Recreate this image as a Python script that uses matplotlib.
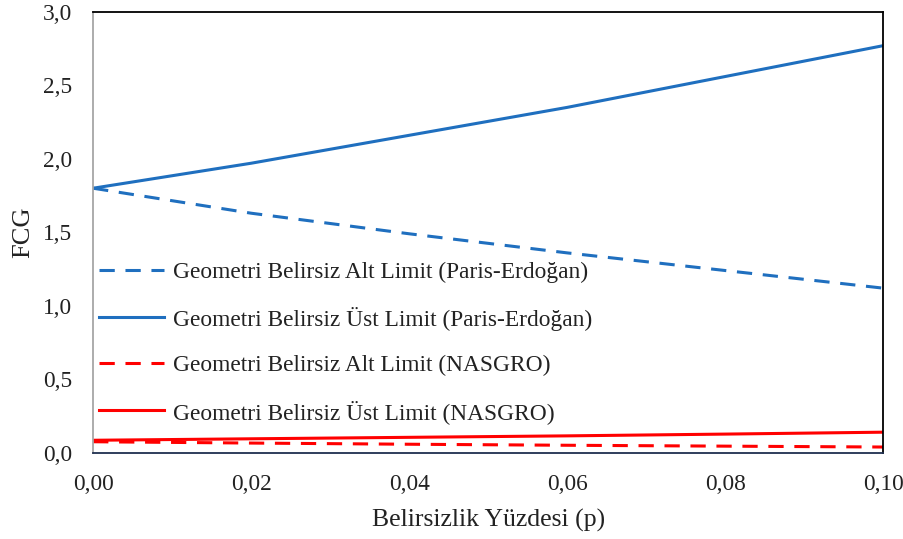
import matplotlib.pyplot as plt
from matplotlib.ticker import FuncFormatter, MultipleLocator

# Uncertainty percentage p
p = [0.00, 0.02, 0.04, 0.06, 0.08, 0.10]

# FCG limits for each model
paris_alt = [1.80, 1.63, 1.49, 1.36, 1.24, 1.12]
paris_ust = [1.80, 1.97, 2.16, 2.35, 2.56, 2.77]
nasgro_alt = [0.075, 0.066, 0.058, 0.051, 0.045, 0.039]
nasgro_ust = [0.085, 0.095, 0.105, 0.115, 0.127, 0.140]

labels = ['Geometri Belirsiz Alt Limit (Paris-Erdoğan)',
          'Geometri Belirsiz Üst Limit (Paris-Erdoğan)',
          'Geometri Belirsiz Alt Limit (NASGRO)',
          'Geometri Belirsiz Üst Limit (NASGRO)']

blue = '#1f6fbf'
red = '#ff0000'

plt.rcParams['font.family'] = ['Liberation Serif', 'DejaVu Serif']

fig = plt.figure(figsize=(9.04, 5.39), dpi=100)
ax = fig.add_axes([0.103, 0.160, 0.874, 0.818])

dash = (0, (5, 3.5))
ax.plot(p, paris_alt, color=blue, lw=2.2, linestyle=dash, label=labels[0])
ax.plot(p, paris_ust, color=blue, lw=2.2, label=labels[1])
ax.plot(p, nasgro_alt, color=red, lw=2.2, linestyle=dash, label=labels[2])
ax.plot(p, nasgro_ust, color=red, lw=2.2, label=labels[3])

ax.set_xlim(0, 0.10)
ax.set_ylim(0, 3.0)
ax.xaxis.set_major_locator(MultipleLocator(0.02))
ax.yaxis.set_major_locator(MultipleLocator(0.5))

# decimal comma labels
ax.xaxis.set_major_formatter(FuncFormatter(lambda v, pos: f'{v:.2f}'.replace('.', ',')))
ax.yaxis.set_major_formatter(FuncFormatter(lambda v, pos: f'{v:.1f}'.replace('.', ',')))
ax.tick_params(length=0, labelsize=16.8, colors='#222222')
ax.tick_params(axis='x', pad=15)
ax.tick_params(axis='y', pad=15)

ax.spines['left'].set_color('#a6a6a6')
ax.spines['bottom'].set_color('#1f2f4f')
ax.spines['top'].set_color('black')
ax.spines['right'].set_color('black')
for s in ax.spines.values():
    s.set_linewidth(1.3)

ax.set_xlabel('Belirsizlik Yüzdesi (p)', fontsize=18.5, color='#222222', labelpad=10)
ax.set_ylabel('FCG', fontsize=19, color='#222222', labelpad=6)

ax.legend(loc='center left', bbox_to_anchor=(-0.002, 0.25), frameon=False,
          fontsize=16.8, handlelength=2.8, handletextpad=0.4, labelspacing=1.02,
          borderaxespad=0, borderpad=0.3, labelcolor='#222222')

fig.savefig('out.png', dpi=100)
